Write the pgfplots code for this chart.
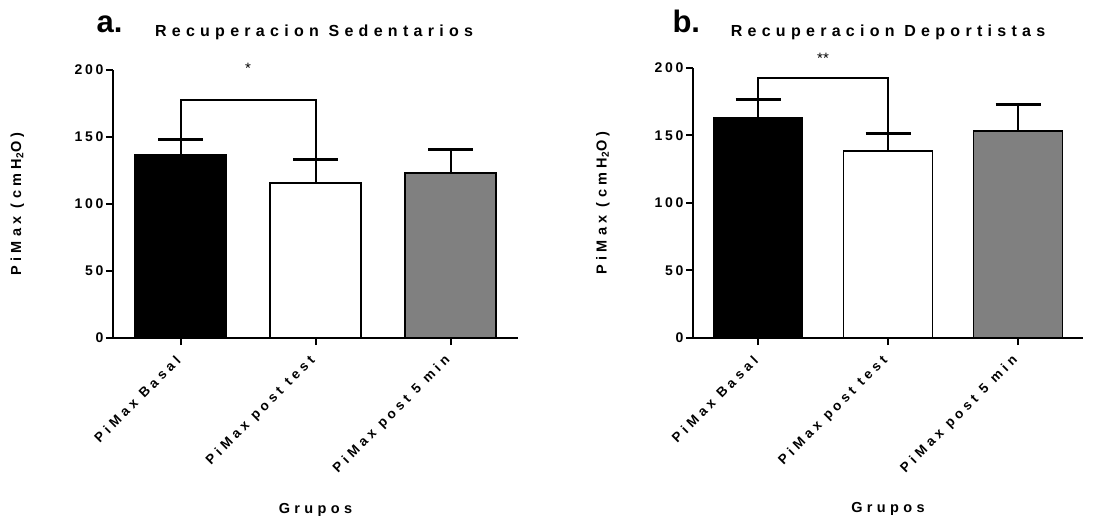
\documentclass[border=0pt]{standalone}
\usepackage{fontspec}
\setmainfont{Liberation Sans}
\newfontfamily\lsd[LetterSpace=20, UprightFont={Liberation Sans Bold}, BoldFont={Liberation Sans Bold}]{Liberation Sans}
\newfontfamily\lsb[LetterSpace=30, UprightFont={Liberation Sans Bold}, BoldFont={Liberation Sans Bold}]{Liberation Sans}
\newfontfamily\lst[LetterSpace=33, UprightFont={Liberation Sans Bold}, BoldFont={Liberation Sans Bold}]{Liberation Sans}
\newfontfamily\bfs[UprightFont={Liberation Sans Bold}]{Liberation Sans}
\usepackage{pgfplots}
\pgfplotsset{compat=1.18}
\definecolor{bargray}{RGB}{128,128,128}
\pgfplotsset{
  prism/.style={
    scale only axis, clip=false,
    axis x line*=bottom, axis y line*=left,
    axis line style={line width=2bp, black},
    xmin=-0.5, xmax=2.5, ymin=0, ymax=200,
    xtick={0,1,2},
    xticklabels={PiMax Basal, PiMax post test, PiMax post 5 min},
    ytick={0,50,100,150,200},
    tick align=outside, major tick length=7bp,
    tick style={line width=2bp, black},
    /pgf/number format/assume math mode=true,
    yticklabel style={font=\fontsize{14bp}{16bp}\lsd, xshift=1bp},
    xticklabel style={font=\fontsize{13.5bp}{15bp}\lsb, yshift=-11bp, rotate=45, anchor=east},
    label style={font=\fontsize{14.5bp}{16bp}\lsb},
    xlabel={Grupos},
    ylabel={PiMax (cmH\textsubscript{2}O)},
  },
  prismbar/.style={ybar, bar width=#1, draw=black, line width=1.8bp,
    error bars/y dir=plus, error bars/y explicit,
    error bars/error mark=|,
    error bars/error bar style={line width=2bp, black},
    error bars/error mark options={line width=2.5bp, mark size=22.5bp, black}},
  bracket/.style={black, line width=2bp, mark=none, sharp plot},
}
\begin{document}
\begin{tikzpicture}
\useasboundingbox (0,0) rectangle (1094bp,516bp);
% panel a
\begin{axis}[prism, at={(113bp,178bp)}, anchor=south west, width=405bp, height=268bp,
  ylabel style={at={(axis description cs:-0.236,0.5)}, anchor=center},
  xlabel style={at={(axis description cs:0.5,-0.653)}, anchor=base}]
\addplot[prismbar=91bp, fill=black] coordinates {(0,136.6) +- (0,11.7)};
\addplot[prismbar=91bp, fill=white] coordinates {(1,115.7) +- (0,17.6)};
\addplot[prismbar=91bp, fill=bargray] coordinates {(2,123.1) +- (0,17.7)};
\addplot[bracket] coordinates {(0,148.3) (0,177.6) (1,177.6) (1,133.3)};
\node[font=\fontsize{15bp}{17bp}\selectfont] at (axis cs:0.5,201.5) {*};
\end{axis}
\node[anchor=base west, font=\fontsize{31bp}{33bp}\bfs] at (93bp,483bp) {a.};
\node[anchor=base, font=\fontsize{16bp}{18bp}\lst] at (314bp,479bp) {Recuperacion Sedentarios};
% panel b
\begin{axis}[prism, at={(693bp,178bp)}, anchor=south west, width=390bp, height=270bp,
  ylabel style={at={(axis description cs:-0.231,0.5)}, anchor=center},
  xlabel style={at={(axis description cs:0.5,-0.648)}, anchor=base}]
\addplot[prismbar=89bp, fill=black] coordinates {(0,163.0) +- (0,13.5)};
\addplot[prismbar=89bp, fill=white] coordinates {(1,138.7) +- (0,12.6)};
\addplot[prismbar=89bp, fill=bargray] coordinates {(2,153.6) +- (0,19.2)};
\addplot[bracket] coordinates {(0,176.5) (0,192.4) (1,192.4) (1,151.3)};
\node[font=\fontsize{15bp}{17bp}\selectfont] at (axis cs:0.5,207.5) {**};
\end{axis}
\node[anchor=base west, font=\fontsize{31bp}{33bp}\bfs] at (669bp,483bp) {b.};
\node[anchor=base, font=\fontsize{16bp}{18bp}\lst] at (888bp,479bp) {Recuperacion Deportistas};
\end{tikzpicture}
\end{document}
